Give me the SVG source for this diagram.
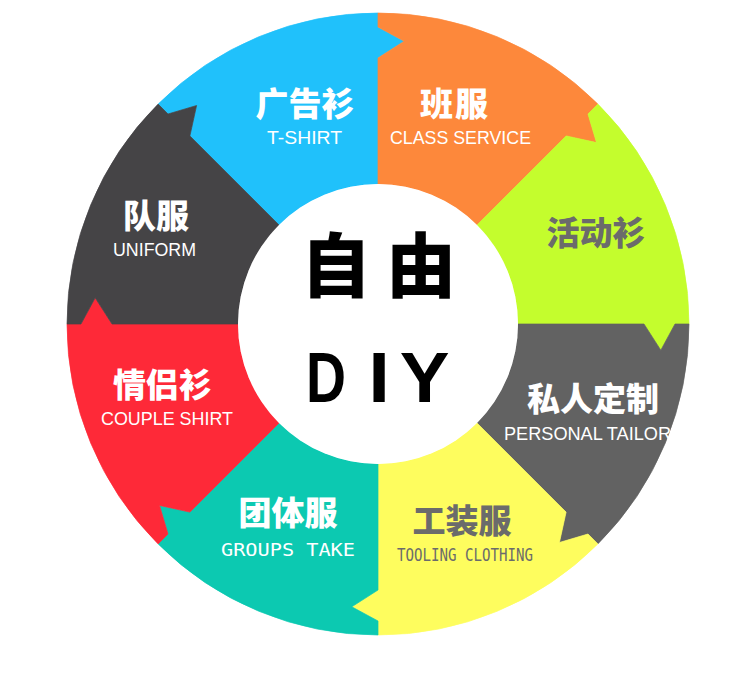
<svg xmlns="http://www.w3.org/2000/svg" width="750" height="678" viewBox="0 0 750 678">
<style>
.sec{stroke-width:0.7;stroke-linejoin:round}
.cn{font-family:"Noto Sans CJK SC","Noto Sans CJK TC",sans-serif;font-weight:900;font-size:33px;text-anchor:middle}
.en{font-family:"Liberation Sans","Noto Sans",sans-serif;font-size:19px;text-anchor:middle}
.mo{font-family:"DejaVu Sans Mono","Liberation Mono",monospace;font-size:18px;text-anchor:middle}
.w{fill:#ffffff}
.g{fill:#6b6b6b}
.big{font-family:"Noto Sans CJK SC","Noto Sans CJK TC",sans-serif;font-weight:900;font-size:70px;text-anchor:middle;fill:#000}
.diy{font-family:"Liberation Sans","Noto Sans",sans-serif;font-weight:bold;font-size:71px;text-anchor:middle;fill:#000}
</style>
<rect width="750" height="678" fill="#ffffff"/>
<g id="sector-tshirt">
<path class="sec" fill="#20c1fb" stroke="#20c1fb" d="M158.1,104.1 A311,311 0 0 1 378,13 L378,27 L404.2,41.2 L378,58 L378,184 A140,140 0 0 0 279,225 L189.9,135.9 L196.6,105.5 L168,114 Z"/>
<text class="cn w" x="305" y="116">广告衫</text>
<text class="en w" x="304.5" y="144" textLength="75" lengthAdjust="spacingAndGlyphs">T-SHIRT</text>
</g>
<g id="sector-class">
<path class="sec" fill="#fd883b" stroke="#fd883b" d="M378,13 A311,311 0 0 1 597.9,104.1 L588,114 L596.5,142.6 L566.1,135.9 L477,225 A140,140 0 0 0 378,184 L378,58 L404.2,41.2 L378,27 Z"/>
<text class="cn w" x="455" y="116" letter-spacing="2">班服</text>
<text class="en w" x="460.5" y="144" textLength="141" lengthAdjust="spacingAndGlyphs">CLASS SERVICE</text>
</g>
<g id="sector-activity">
<path class="sec" fill="#c4fd2d" stroke="#c4fd2d" d="M597.9,104.1 A311,311 0 0 1 689,324 L675,324 L660.8,350.2 L644,324 L518,324 A140,140 0 0 0 477,225 L566.1,135.9 L596.5,142.6 L588,114 Z"/>
<text class="cn g" x="596" y="245">活动衫</text>
</g>
<g id="sector-tailor">
<path class="sec" fill="#626262" stroke="#626262" d="M689,324 A311,311 0 0 1 597.9,543.9 L588,534 L559.4,542.5 L566.1,512.1 L477,423 A140,140 0 0 0 518,324 L644,324 L660.8,350.2 L675,324 Z"/>
<text class="cn w" x="593" y="411">私人定制</text>
<text class="en w" x="587.5" y="440" textLength="167" lengthAdjust="spacingAndGlyphs">PERSONAL TAILOR</text>
</g>
<g id="sector-tooling">
<path class="sec" fill="#fefd5e" stroke="#fefd5e" d="M597.9,543.9 A311,311 0 0 1 378,635 L378,621 L351.8,606.8 L378,590 L378,464 A140,140 0 0 0 477,423 L566.1,512.1 L559.4,542.5 L588,534 Z"/>
<text class="cn g" x="462" y="533">工装服</text>
<text class="mo g" x="465" y="561" font-size="17" textLength="136" lengthAdjust="spacingAndGlyphs">TOOLING CLOTHING</text>
</g>
<g id="sector-groups">
<path class="sec" fill="#0cc9b1" stroke="#0cc9b1" d="M378,635 A311,311 0 0 1 158.1,543.9 L168,534 L159.5,505.4 L189.9,512.1 L279,423 A140,140 0 0 0 378,464 L378,590 L351.8,606.8 L378,621 Z"/>
<text class="cn w" x="288" y="525">团体服</text>
<text class="mo w" x="288" y="556" font-size="20" textLength="134" lengthAdjust="spacingAndGlyphs">GROUPS TAKE</text>
</g>
<g id="sector-couple">
<path class="sec" fill="#fe2938" stroke="#fe2938" d="M158.1,543.9 A311,311 0 0 1 67,324 L81,324 L95.2,297.8 L112,324 L238,324 A140,140 0 0 0 279,423 L189.9,512.1 L159.5,505.4 L168,534 Z"/>
<text class="cn w" x="162.5" y="397">情侣衫</text>
<text class="en w" x="167" y="425" textLength="132" lengthAdjust="spacingAndGlyphs">COUPLE SHIRT</text>
</g>
<g id="sector-uniform">
<path class="sec" fill="#454446" stroke="#454446" d="M67,324 A311,311 0 0 1 158.1,104.1 L168,114 L196.6,105.5 L189.9,135.9 L279,225 A140,140 0 0 0 238,324 L112,324 L95.2,297.8 L81,324 Z"/>
<text class="cn w" x="156" y="228">队服</text>
<text class="en w" x="154.5" y="256" textLength="83" lengthAdjust="spacingAndGlyphs">UNIFORM</text>
</g>
<g id="center">
<circle cx="378" cy="324" r="140" fill="#ffffff"/>
<text class="big" x="336" y="292">自</text>
<text class="big" x="421" y="292">由</text>
<text class="diy" transform="translate(326,402) scale(0.78,1)">D</text>
<text class="diy" transform="translate(379,402) scale(1.1,1)">I</text>
<text class="diy" transform="translate(424.5,402) scale(1.05,1)">Y</text>
</g>
<g id="connectors"></g>
</svg>
